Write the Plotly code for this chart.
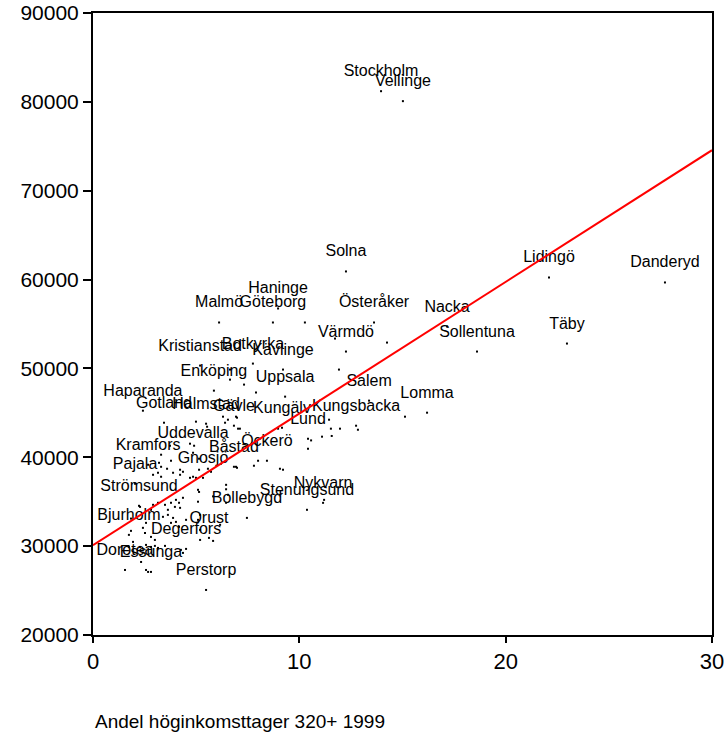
import plotly.graph_objects as go

# Labelled municipalities
names = ["Stockholm", "Vellinge", "Solna", "Lidingö", "Danderyd", "Täby", "Sollentuna",
         "Nacka", "Österåker", "Värmdö", "Haninge", "Göteborg", "Malmö", "Kristianstad",
         "Botkyrka", "Kävlinge", "Enköping", "Uppsala", "Haparanda", "Gotland", "Halmstad",
         "Gävle", "Kungälv", "Kungsbacka", "Lund", "Salem", "Lomma", "Uddevalla", "Kramfors",
         "Pajala", "Gnosjö", "Båstad", "Öckerö", "Strömsund", "Bollebygd", "Stenungsund",
         "Nykvarn", "Bjurholm", "Orust", "Degerfors", "Dorotea", "Essunga", "Perstorp"]
name_x = [13.96, 15.02, 12.26, 22.10, 27.72, 22.97, 18.61,
          17.16, 13.62, 12.26, 8.97, 8.72, 6.11, 5.19,
          7.75, 9.21, 5.86, 9.31, 2.42, 3.44, 5.48,
          6.83, 9.16, 12.75, 10.42, 13.38, 16.19, 4.85, 2.67,
          2.04, 5.33, 6.83, 8.43, 2.23, 7.46, 10.37,
          11.15, 1.74, 5.62, 4.51, 1.55, 2.81, 5.48]
name_y = [81200, 80080, 60915, 60240, 59675, 52800, 51900,
          54715, 55170, 51900, 56745, 55170, 55170, 50320,
          50545, 49870, 47500, 46825, 45245, 43890, 43780,
          43555, 43330, 43555, 42090, 46375, 45020, 40510, 39160,
          37020, 37690, 38930, 39610, 34540, 33180, 34090,
          34875, 31270, 30930, 29690, 27320, 27100, 25070]

# Unlabelled municipalities
other_x = [10.27, 11.73, 14.25, 11.92, 7.90, 6.64, 7.32, 6.64, 15.12, 11.44,
           11.53, 11.97, 12.84, 11.10, 10.42, 6.98, 7.03, 8.97, 6.30, 6.40,
           6.54, 6.93, 7.12, 5.53, 4.99, 4.70, 4.90, 3.73, 3.30, 5.14,
           3.78, 3.20, 3.30, 3.59, 4.22, 5.14, 5.57, 6.20, 6.93, 4.70,
           4.99, 8.00, 6.98, 7.80, 9.06, 9.21, 11.20, 2.91, 3.15, 3.30,
           3.88, 4.22, 4.36, 4.85, 5.72, 6.45, 5.09, 4.36, 4.02, 4.17,
           4.22, 3.78, 3.97, 3.63, 3.49, 3.15, 2.91, 2.81, 2.28, 3.39,
           3.63, 3.88, 4.02, 4.17, 3.78, 2.57, 2.42, 2.52, 1.84, 2.81,
           3.00, 1.94, 1.74, 2.28, 2.57, 2.81, 3.00, 3.15, 3.49, 4.26,
           4.36, 5.19, 5.82, 5.19, 5.09, 5.19, 4.51, 6.16, 6.45, 6.54,
           2.33, 2.57, 2.67, 5.14, 5.82, 5.09, 6.45, 1.84, 10.57, 11.57]
other_y = [55170, 53360, 52910, 49870, 47280, 48740, 48180, 49870, 44570, 44230,
           43220, 43220, 43100, 42320, 40960, 44460, 43220, 43220, 44570, 43890,
           44230, 44570, 43220, 43440, 44010, 41530, 41300, 41300, 40290, 39840,
           39610, 39380, 38930, 38710, 38600, 38600, 38710, 39270, 38930, 37690,
           37690, 39610, 38820, 39050, 38710, 38600, 35210, 38030, 38260, 37810,
           38260, 38030, 38370, 37810, 38370, 36900, 36340, 35440, 35210, 34880,
           34310, 34880, 34420, 34090, 34650, 34880, 34650, 34090, 34420, 33300,
           33520, 33180, 32730, 32170, 32620, 32620, 32060, 31490, 31720, 31040,
           30700, 30480, 29910, 29910, 30140, 29910, 30030, 29800, 30030, 29580,
           29240, 30700, 30590, 31830, 32960, 33520, 32960, 32400, 34880, 35780,
           28220, 27320, 27100, 36100, 35600, 35000, 36400, 33100, 41900, 42400]

# Regression line
fit_x = [0, 30]
fit_intercept = 30100
fit_slope = 1482
fit_y = [fit_intercept + fit_slope * v for v in fit_x]

x_ticks = [0, 10, 20, 30]
y_ticks = [20000, 30000, 40000, 50000, 60000, 70000, 80000, 90000]
x_title = "Andel höginkomsttager 320+ 1999"

FONT = "Liberation Sans, Arial, sans-serif"

fig = go.Figure()
fig.add_trace(go.Scatter(x=other_x, y=other_y, mode="markers",
                         marker=dict(size=2, color="black", symbol="square"),
                         hoverinfo="skip", showlegend=False))
fig.add_trace(go.Scatter(x=name_x, y=name_y, mode="markers",
                         marker=dict(size=2, color="black", symbol="square"),
                         hoverinfo="skip", showlegend=False))
fig.add_trace(go.Scatter(x=name_x, y=name_y, mode="markers+text", text=names,
                         textposition="top center",
                         textfont=dict(family=FONT, size=16, color="black"),
                         marker=dict(size=16, color="rgba(0,0,0,0)"),
                         hoverinfo="text", showlegend=False))
fig.add_trace(go.Scatter(x=fit_x, y=fit_y, mode="lines",
                         line=dict(color="#ff0000", width=2),
                         hoverinfo="skip", showlegend=False))

fig.update_layout(
    width=726, height=738,
    margin=dict(l=93, r=14, t=13, b=103),
    paper_bgcolor="white", plot_bgcolor="white",
    font=dict(family=FONT, color="black"),
    xaxis=dict(range=[0, 30], tickvals=x_ticks, ticks="outside", ticklen=6,
               tickwidth=2, tickcolor="black", showgrid=False, zeroline=False,
               showline=True, linecolor="black", linewidth=2, mirror=True,
               automargin=False, ticklabeloverflow="allow",
               tickfont=dict(size=22, family=FONT)),
    yaxis=dict(range=[20000, 90000], tickvals=y_ticks, tickformat="d",
               ticks="outside", ticklen=8,
               tickwidth=2, tickcolor="black", showgrid=False, zeroline=False,
               showline=True, linecolor="black", linewidth=2, mirror=True,
               automargin=False, ticklabeloverflow="allow",
               tickfont=dict(size=21, family=FONT)),
    annotations=[dict(text=x_title, xref="paper", yref="paper", x=0, y=-0.1385,
                      xanchor="left", yanchor="middle", showarrow=False,
                      font=dict(size=19, family=FONT, color="black"))],
)

fig.write_html("out.html", config={"displayModeBar": False},
               post_script="document.body.style.margin='0';document.body.style.overflow='hidden';")
